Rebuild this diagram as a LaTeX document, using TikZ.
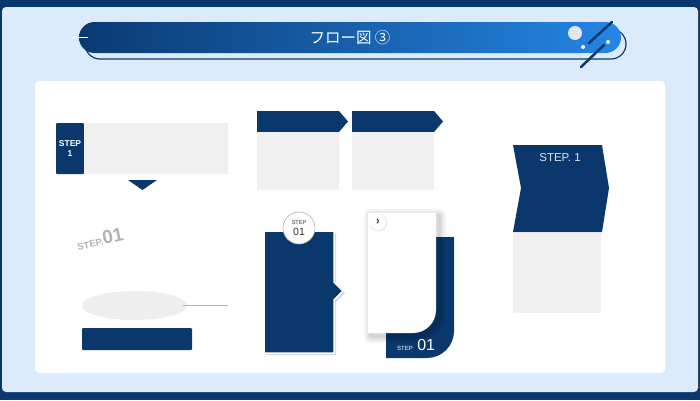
\documentclass[tikz,border=0pt]{standalone}
\usepackage{fontspec}
\setmainfont{Liberation Sans}
\newfontfamily\cjk{Noto Sans CJK JP}
\usepackage{tikz}
\usetikzlibrary{positioning, shapes.geometric, shadows}
\definecolor{navy}{HTML}{0A386C}
\definecolor{lightbg}{HTML}{DCEBFB}
\definecolor{boxgray}{HTML}{F0F0F0}
\definecolor{ellgray}{HTML}{EEEEEE}
\definecolor{titleleft}{HTML}{0A3A72}
\definecolor{titleright}{HTML}{2585E4}
\definecolor{linegray}{HTML}{A9B8CB}

\begin{document}
\begin{tikzpicture}[x=1pt,y=-1pt,
        navybox/.style={fill=navy, inner sep=0pt, rounded corners=1pt},
        graybox/.style={fill=boxgray, inner sep=0pt},
        softshade/.style={draw=black, opacity=0.045, line width=#1, line join=round}]
        \useasboundingbox (0,0) rectangle (700,400);
        \fill[navy] (0,0) rectangle (700,400);
        \fill[lightbg, rounded corners=4pt] (2,7) rectangle (698,392);

        \fill[lightbg, draw=navy, line width=1.2pt, rounded corners=15pt] (85,29) rectangle (626,59);
        \path[left color=titleleft, right color=titleright, rounded corners=15.5pt] (79,22) rectangle (621,53);
        \draw[white, line width=1pt] (72,37) -- (88,37);
        \node[text=white, font=\cjk\fontsize{15.5}{17}\selectfont] (title) at (350,38) {フロー図 ③};
        \fill[white!88!navy] (575,33) circle[radius=7pt];
        \fill[white] (583,47) circle[radius=2pt] (608,42) circle[radius=2pt];
        \draw[navy, line width=2.5pt, line cap=round] (589,43) -- (612,22);
        \draw[navy, line width=2.5pt, line cap=round] (581,67) -- (604,45);

        \fill[white, rounded corners=4pt] (35,81) rectangle (665,373);

        \node[navybox, minimum width=28pt, minimum height=51pt, align=center, text=white,
          font=\bfseries\fontsize{8.5}{9.5}\selectfont] (tag1) at (70,148.5) {STEP\\1};
        \node[graybox, anchor=west, minimum width=144pt, minimum height=51pt] (box1) at (tag1.east) {};
        \fill[navy] (128,180) -- (157,180) -- (142.5,190) -- cycle;

        \node[text=black!30, rotate=12, inner sep=0pt] (step01) at (100,239)
          {\bfseries\fontsize{9.5}{10}\selectfont STEP.\fontsize{19}{20}\selectfont 01};

        \node[ellipse, fill=ellgray, minimum width=105pt, minimum height=29pt] (ell) at (134.5,305.5) {};
        \coordinate (lineend) at (228,305.5);
        \draw[linegray, line width=0.8pt] ([xshift=-4pt]ell.east) -- (lineend);
        \node[navybox, minimum width=110pt, minimum height=22pt] (bar1) at (137,339) {};

        \foreach \x [count=\i] in {257,352} {
          \fill[navy] (\x,111) -- ++(82,0) -- ++(9,10.5) -- ++(-9,10.5) -- ++(-82,0) -- cycle;
          \node[graybox, anchor=north west, minimum width=82pt, minimum height=58pt] (hbox\i) at (\x,132) {};
        }

        \path[fill=navy, draw=white, line width=1.5pt,
          drop shadow={shadow xshift=2pt, shadow yshift=-2pt, fill=black!30}]
          (264,231) -- (334,231) -- (334,282) -- (343,291) -- (334,300) -- (334,353) -- (264,353) -- cycle;
        \node[circle, fill=white, draw=black!30, line width=0.6pt, minimum size=32pt, inner sep=0pt,
          align=center, text=black!80] (stepc) at (299,228)
          {\fontsize{5.5}{5.5}\selectfont STEP\\[-1pt]\fontsize{10.5}{10.5}\selectfont 01};

        \fill[navy] (386,237) -- (454,237) -- (454,331) .. controls (454,345.9) and (441.9,358) .. (427,358) -- (386,358) -- cycle;
        \node[text=white, inner sep=0pt, anchor=base west] (cardstep) at (397,350) {\fontsize{6}{6}\selectfont STEP};
        \node[text=white, inner sep=0pt, right=4pt of cardstep.base east, anchor=base west]
          (cardnum) {\fontsize{16}{16}\selectfont 01};
        \foreach \w in {14pt,10pt,6pt,3pt}
          \draw[softshade=\w] (371,216) -- (439,216) -- (439,313) .. controls (439,325.7) and (428.7,336) .. (416,336) -- (371,336) -- cycle;
        \fill[white] (368,213) -- (436,213) -- (436,310) .. controls (436,322.7) and (425.7,333) .. (413,333) -- (368,333) -- cycle;
        \fill[black, opacity=0.08] (378.6,222.6) circle[radius=8.8pt];
        \node[circle, fill=white, minimum size=16pt, inner sep=0pt, text=navy,
          font=\bfseries\fontsize{11}{11}\selectfont] (nextc) at (378,222) {›};

        \fill[navy] (513,145) -- (602,145) -- (609,188) -- (602,232) -- (513,232) -- (521,188) -- cycle;
        \node[text=white!85!navy, font=\fontsize{11.5}{12}\selectfont] (chevtxt) at (560,158) {STEP. 1};
        \node[graybox, anchor=north west, minimum width=88pt, minimum height=80pt] (chevbox) at (513,233) {};
      \end{tikzpicture}
\end{document}
